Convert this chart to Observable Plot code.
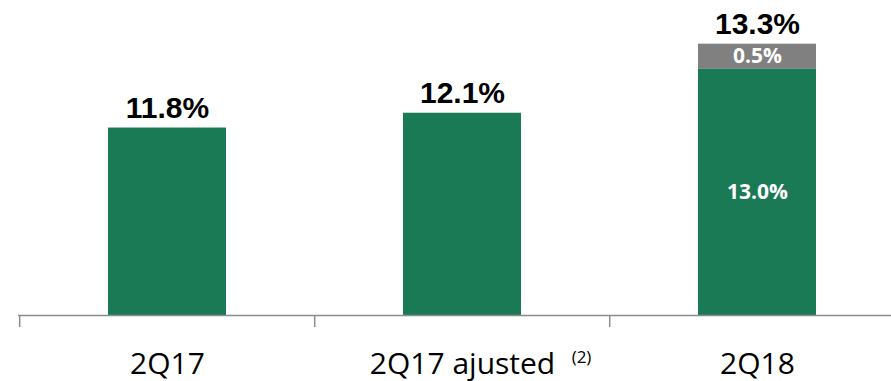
<!DOCTYPE html>
<html>
<head>
<meta charset="utf-8">
<script src="https://cdn.jsdelivr.net/npm/d3@7"></script>
<script src="https://cdn.jsdelivr.net/npm/@observablehq/plot@0.6"></script>
<style>
  html, body { margin: 0; padding: 0; background: #fff; overflow: hidden; }
  #chart { width: 891px; height: 381px; overflow: hidden; }
  #chart svg { max-width: none !important; }
</style>
</head>
<body>
<div id="chart"></div>
<script>
const categories = ["2Q17", "2Q17 ajusted", "2Q18"];
const baseValues = [11.8, 12.1, 13.0];
const extraValues = [0, 0, 0.5];
const totalLabels = ["11.8%", "12.1%", "13.3%"];
const innerLabels = ["", "", "13.0%"];
const extraLabels = ["", "", "0.5%"];
const footnotes = ["", "(2)", ""];
const axisFloor = 8;

const rows = categories.map((c, i) => ({
  cat: c,
  base: baseValues[i],
  extra: extraValues[i],
  top: baseValues[i] + extraValues[i],
  total: totalLabels[i],
  inner: innerLabels[i],
  extraLabel: extraLabels[i],
  note: footnotes[i]
}));

const green = "#1a7a56";
const grey = "#808080";

const chart = Plot.plot({
  width: 905,
  height: 381,
  marginLeft: 18,
  marginRight: 0,
  marginTop: 19,
  marginBottom: 66,
  style: { maxWidth: "none" },
  x: { type: "band", domain: categories, paddingInner: 0.6, paddingOuter: 0.3, axis: null },
  y: { domain: [axisFloor, 14], axis: null },
  marks: [
    Plot.barY(rows, { x: "cat", y1: axisFloor, y2: "base", fill: green }),
    Plot.barY(rows.filter(d => d.extra > 0), { x: "cat", y1: "base", y2: "top", fill: grey }),
    Plot.ruleY([axisFloor], { stroke: "#8c8c8c", strokeWidth: 1.5 }),
    Plot.ruleX(categories, { x: d => d, dx: -147.8, y1: axisFloor, y2: axisFloor, insetBottom: -12, stroke: "#8c8c8c", strokeWidth: 1.5 }),
    Plot.text(rows, { x: "cat", y: "top", text: "total", lineAnchor: "bottom", dy: -10,
      fontFamily: "Liberation Sans, Arial, sans-serif", fontWeight: "bold", fontSize: 30, fill: "#000" }),
    Plot.text(rows.filter(d => d.inner), { x: "cat", y: d => (axisFloor + d.base) / 2, text: "inner", lineAnchor: "middle",
      fontFamily: "Open Sans, sans-serif", fontWeight: "bold", fontSize: 21, fill: "#fff" }),
    Plot.text(rows.filter(d => d.extraLabel), { x: "cat", y: d => (d.base + d.top) / 2, text: "extraLabel", lineAnchor: "middle",
      fontFamily: "Open Sans, sans-serif", fontWeight: "bold", fontSize: 21, fill: "#fff" }),
    Plot.text(rows, { x: "cat", y: axisFloor, text: "cat", lineAnchor: "bottom", dy: 58,
      fontFamily: "Open Sans, sans-serif", fontSize: 30, fill: "#000" }),
    Plot.text(rows.filter(d => d.note), { x: "cat", y: axisFloor, text: "note", lineAnchor: "bottom", dy: 47, dx: 119,
      fontFamily: "Open Sans, sans-serif", fontSize: 17, fill: "#000" })
  ]
});
chart.style.maxWidth = "none";
document.getElementById("chart").appendChild(chart);
</script>
</body>
</html>
